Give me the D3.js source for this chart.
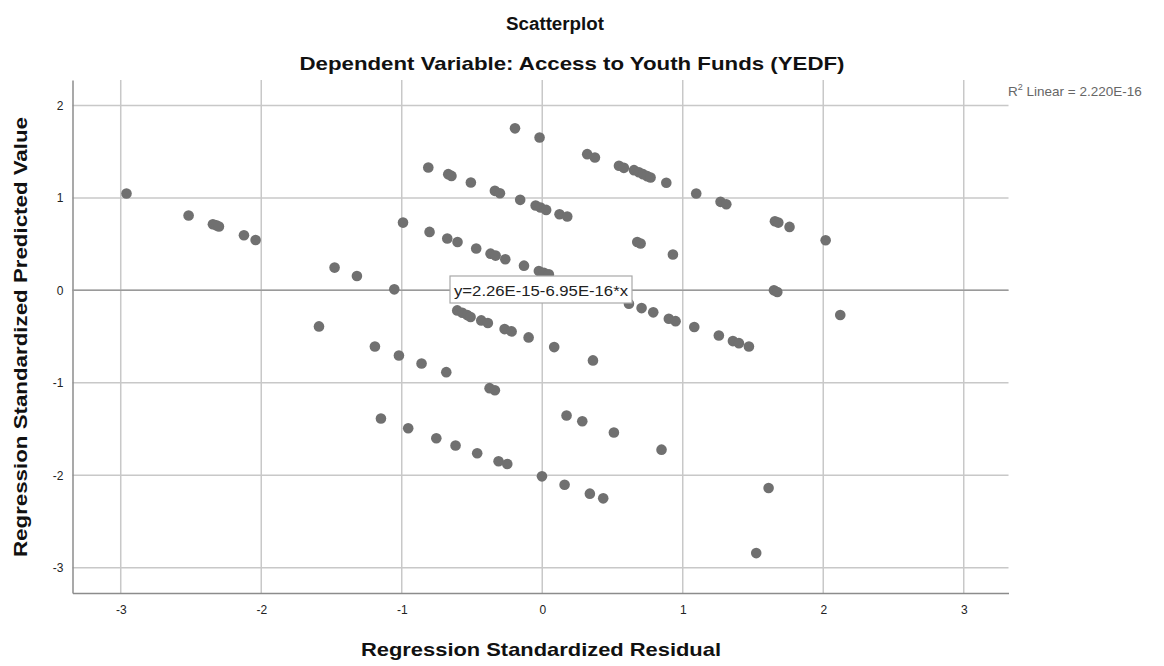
<!DOCTYPE html>
<html>
<head>
<meta charset="utf-8">
<script src="https://cdn.jsdelivr.net/npm/d3@7"></script>
<style>
body { margin: 0; background: #fff; }
text { font-family: "Liberation Sans", Arial, sans-serif; }
</style>
</head>
<body>
<svg class="chart" width="1164" height="666"></svg>
<script>
// residual (x) and predicted value (y)
var residual = [
  -2.959, -2.517, -2.344, -2.320, -2.301, -2.123, -2.040, -1.478, -1.319, -1.589,
  -0.194, -0.019, 0.320, 0.375, 0.546, 0.581, 0.653, 0.688, 0.717, 0.747, 0.771, 0.883,
  -0.811, -0.669, -0.646, -0.508, -0.337, -0.301, -0.157, -0.047, -0.012, 0.028, 0.123, 0.178,
  -0.991, -0.802, -0.676, -0.603, -0.470, -0.368, -0.332, -0.263, -0.130, -0.024, 0.012, 0.047,
  0.676, 0.700, 0.930, -1.053,
  -0.605, -0.569, -0.534, -0.510, -0.434, -0.387, -0.268, -0.218, -0.097, 0.085, 0.361,
  0.617, 0.707, 0.790, 0.901, 0.949, 1.082, 1.257, 1.357, 1.400, 1.471,
  -1.191, -1.020, -0.859, -0.683, -0.375, -0.337,
  -1.148, -0.954, -0.754, -0.617, -0.463, -0.311, -0.249,
  -0.002, 0.159, 0.339, 0.434,
  0.173, 0.285, 0.510, 0.849,
  1.096, 1.269, 1.310, 1.656, 1.680, 1.760, 2.017,
  1.649, 1.673, 2.121, 1.611, 1.523
];
var predicted = [
  1.048, 0.809, 0.715, 0.703, 0.690, 0.596, 0.545, 0.246, 0.155, -0.390,
  1.752, 1.654, 1.473, 1.437, 1.347, 1.325, 1.300, 1.278, 1.257, 1.235, 1.221, 1.163,
  1.329, 1.257, 1.238, 1.167, 1.076, 1.051, 0.979, 0.918, 0.896, 0.870, 0.823, 0.798,
  0.733, 0.632, 0.560, 0.523, 0.452, 0.397, 0.376, 0.336, 0.267, 0.209, 0.191, 0.173,
  0.523, 0.506, 0.387, 0.011,
  -0.217, -0.242, -0.268, -0.289, -0.325, -0.354, -0.419, -0.444, -0.509, -0.614, -0.758,
  -0.144, -0.192, -0.238, -0.307, -0.333, -0.397, -0.488, -0.549, -0.571, -0.607,
  -0.607, -0.704, -0.791, -0.885, -1.058, -1.080,
  -1.387, -1.492, -1.600, -1.679, -1.762, -1.849, -1.878,
  -2.012, -2.102, -2.199, -2.250,
  -1.354, -1.416, -1.538, -1.723,
  1.048, 0.957, 0.932, 0.748, 0.733, 0.686, 0.542,
  0.000, -0.018, -0.267, -2.138, -2.842
];
var xTicks = [-3, -2, -1, 0, 1, 2, 3];
var yTicks = [-3, -2, -1, 0, 1, 2];
var fitIntercept = 2.26e-15, fitSlope = -6.95e-16;
var fitLabel = "y=2.26E-15-6.95E-16*x";
var r2Label = "2.220E-16";

var svg = d3.select("svg.chart");
var pLeft = 72.5, pRight = 1008.5, pTop = 80, pBottom = 593;

var x = d3.scaleLinear().domain([-3.3433, 3.3185]).range([pLeft, pRight]);
var y = d3.scaleLinear().domain([-3.2737, 2.2752]).range([pBottom, pTop]);

/* grid */
svg.append("g").selectAll("line").data(xTicks).enter().append("line")
    .attr("x1", d => x(d)).attr("x2", d => x(d))
    .attr("y1", pTop).attr("y2", pBottom)
    .attr("stroke", "#c8c8c8").attr("stroke-width", 1.5);
svg.append("g").selectAll("line").data(yTicks).enter().append("line")
    .attr("x1", pLeft).attr("x2", pRight)
    .attr("y1", d => y(d)).attr("y2", d => y(d))
    .attr("stroke", "#c8c8c8").attr("stroke-width", 1.5);

/* axes */
var xAxis = svg.append("g").attr("transform", "translate(0," + pBottom + ")")
    .call(d3.axisBottom(x).tickValues(xTicks).tickFormat(d => String(d)).tickSize(0).tickPadding(12));
var yAxis = svg.append("g").attr("transform", "translate(" + pLeft + ",0)")
    .call(d3.axisLeft(y).tickValues(yTicks).tickFormat(d => String(d)).tickSize(0).tickPadding(9));
[xAxis, yAxis].forEach(function(a){
    a.select(".domain").attr("stroke", "#8c8c8c").attr("stroke-width", 1.5);
    a.selectAll("text").attr("font-size", 12).attr("fill", "#222")
        .attr("font-family", "'Liberation Sans', Arial, sans-serif");
});

/* fit line */
svg.append("line")
    .attr("x1", pLeft).attr("x2", pRight)
    .attr("y1", y(fitIntercept + fitSlope * x.invert(pLeft)))
    .attr("y2", y(fitIntercept + fitSlope * x.invert(pRight)))
    .attr("stroke", "#9a9a9a").attr("stroke-width", 1.5);

/* points */
svg.append("g").selectAll("circle").data(residual).enter().append("circle")
    .attr("cx", d => x(d))
    .attr("cy", (d, i) => y(predicted[i]))
    .attr("r", 5.3)
    .attr("fill", "#707070");

/* fit label box */
var bx = 450, by = 276;
svg.append("rect").attr("x", bx).attr("y", by).attr("width", 182).attr("height", 27)
    .attr("fill", "#fff").attr("stroke", "#a8a8a8").attr("stroke-width", 1.2);
svg.append("text").attr("x", bx + 91).attr("y", by + 19.5)
    .attr("text-anchor", "middle").attr("font-size", 15.5).attr("fill", "#222")
    .attr("textLength", 174).attr("lengthAdjust", "spacingAndGlyphs")
    .text(fitLabel);

/* R2 label */
var r2 = svg.append("text").attr("x", 1008).attr("y", 96)
    .attr("font-size", 13.5).attr("fill", "#666");
r2.append("tspan").text("R");
r2.append("tspan").attr("dy", -6).attr("font-size", 9).text("2");
r2.append("tspan").attr("dy", 6).text(" Linear = " + r2Label);

/* titles */
svg.append("text").attr("x", 555).attr("y", 30).attr("text-anchor", "middle")
    .attr("font-size", 18).attr("font-weight", "bold").attr("fill", "#111")
    .attr("textLength", 98).attr("lengthAdjust", "spacingAndGlyphs")
    .text("Scatterplot");
svg.append("text").attr("x", 572).attr("y", 70).attr("text-anchor", "middle")
    .attr("font-size", 19).attr("font-weight", "bold").attr("fill", "#111")
    .attr("textLength", 545).attr("lengthAdjust", "spacingAndGlyphs")
    .text("Dependent Variable: Access to Youth Funds (YEDF)");
svg.append("text").attr("x", 541).attr("y", 656).attr("text-anchor", "middle")
    .attr("font-size", 19).attr("font-weight", "bold").attr("fill", "#111")
    .attr("textLength", 360).attr("lengthAdjust", "spacingAndGlyphs")
    .text("Regression Standardized Residual");
svg.append("text").attr("transform", "translate(27,337) rotate(-90)")
    .attr("text-anchor", "middle")
    .attr("font-size", 19).attr("font-weight", "bold").attr("fill", "#111")
    .attr("textLength", 440).attr("lengthAdjust", "spacingAndGlyphs")
    .text("Regression Standardized Predicted Value");
</script>
</body>
</html>
